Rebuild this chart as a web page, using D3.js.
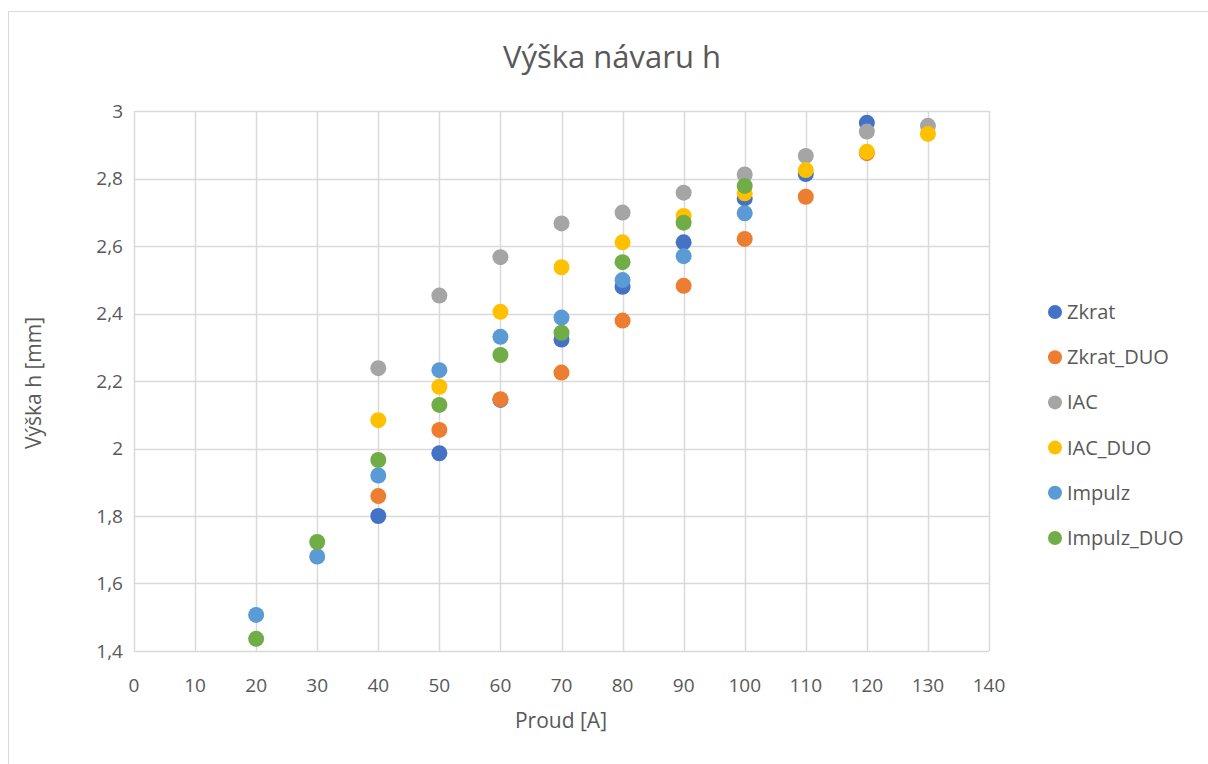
<!DOCTYPE html>
<html>
<head>
<meta charset="utf-8">
<script src="https://cdn.jsdelivr.net/npm/d3@7"></script>
<style>
  body { margin: 0; background: #fff; }
  text { font-family: "Open Sans", "Noto Sans", sans-serif; fill: #595959; }
</style>
</head>
<body>
<div id="vis"></div>
<script>
// data
const currents = [20, 30, 40, 50, 60, 70, 80, 90, 100, 110, 120, 130];
const seriesNames = ["Zkrat", "Zkrat_DUO", "IAC", "IAC_DUO", "Impulz", "Impulz_DUO"];
const seriesColors = ["#4472C4", "#ED7D31", "#A5A5A5", "#FFC000", "#5B9BD5", "#70AD47"];

// null = no measurement at that current
const zkrat     = [null, null, 1.800, 1.986, 2.144, 2.323, 2.479, 2.611, 2.741, 2.813, 2.965, null];
const zkratDuo  = [null, null, 1.859, 2.055, 2.146, 2.225, 2.379, 2.482, 2.621, 2.746, 2.875, null];
const iac       = [null, null, 2.238, 2.453, 2.567, 2.667, 2.699, 2.758, 2.812, 2.867, 2.939, 2.956];
const iacDuo    = [null, null, 2.084, 2.183, 2.405, 2.537, 2.611, 2.689, 2.756, 2.825, 2.879, 2.932];
const impulz    = [1.507, 1.680, 1.920, 2.232, 2.331, 2.388, 2.499, 2.570, 2.697, null, null, null];
const impulzDuo = [1.436, 1.723, 1.966, 2.129, 2.277, 2.343, 2.552, 2.669, 2.778, null, null, null];

const xTicks = d3.range(0, 141, 10);
const yTicks = [1.4, 1.6, 1.8, 2, 2.2, 2.4, 2.6, 2.8, 3];

const allSeries = [zkrat, zkratDuo, iac, iacDuo, impulz, impulzDuo];

const svg = d3.select("#vis").append("svg")
  .attr("width", 1208)
  .attr("height", 764);

// chart border
svg.append("rect")
  .attr("x", 8.5).attr("y", 11.5)
  .attr("width", 1220).attr("height", 780)
  .attr("fill", "none").attr("stroke", "#d9d9d9");

const x = d3.scaleLinear().domain([0, 140]).range([134, 989]);
const y = d3.scaleLinear().domain([1.4, 3]).range([651, 111]);

// gridlines
svg.append("g").selectAll("line.h")
  .data(yTicks).join("line")
  .attr("x1", x(0)).attr("x2", x(140))
  .attr("y1", d => Math.round(y(d)) + 0.5).attr("y2", d => Math.round(y(d)) + 0.5)
  .attr("stroke", "#d9d9d9").attr("stroke-width", 1.5);

svg.append("g").selectAll("line.v")
  .data(xTicks).join("line")
  .attr("y1", y(3)).attr("y2", y(1.4))
  .attr("x1", d => Math.round(x(d)) + 0.5).attr("x2", d => Math.round(x(d)) + 0.5)
  .attr("stroke", "#d9d9d9").attr("stroke-width", 1.5);

// tick labels
svg.append("g").selectAll("text")
  .data(yTicks).join("text")
  .attr("x", 123).attr("y", d => y(d))
  .attr("dy", "0.35em")
  .attr("text-anchor", "end")
  .style("font-size", "19px")
  .text(d => d3.format(",.1f")(d).replace(".", ",").replace(/,0$/, ""));

svg.append("g").selectAll("text")
  .data(xTicks).join("text")
  .attr("x", d => x(d)).attr("y", 685)
  .attr("dy", "0.35em")
  .attr("text-anchor", "middle")
  .style("font-size", "19px")
  .text(d => d);

// titles
svg.append("text")
  .attr("x", 612).attr("y", 57)
  .attr("dy", "0.35em")
  .attr("text-anchor", "middle")
  .style("font-size", "31px")
  .text("Výška návaru h");

svg.append("text")
  .attr("x", 561).attr("y", 721)
  .attr("dy", "0.35em")
  .attr("text-anchor", "middle")
  .style("font-size", "21px")
  .text("Proud [A]");

svg.append("text")
  .attr("transform", "translate(34,383) rotate(-90)")
  .attr("dy", "0.35em")
  .attr("text-anchor", "middle")
  .style("font-size", "21px")
  .text("Výška h [mm]");

// points
allSeries.forEach((vals, i) => {
  const pts = currents.map((c, j) => ({ c, v: vals[j] })).filter(d => d.v != null);
  svg.append("g").selectAll("circle")
    .data(pts).join("circle")
    .attr("cx", d => x(d.c))
    .attr("cy", d => y(d.v))
    .attr("r", 8)
    .attr("fill", seriesColors[i]);
});

// legend
const legend = svg.append("g").selectAll("g")
  .data(seriesNames).join("g")
  .attr("transform", (d, i) => `translate(1055, ${312 + i * 45.2})`);
legend.append("circle").attr("r", 7).attr("fill", (d, i) => seriesColors[i]);
legend.append("text")
  .attr("x", 12).attr("dy", "0.35em")
  .style("font-size", "20px")
  .text(d => d);
</script>
</body>
</html>
